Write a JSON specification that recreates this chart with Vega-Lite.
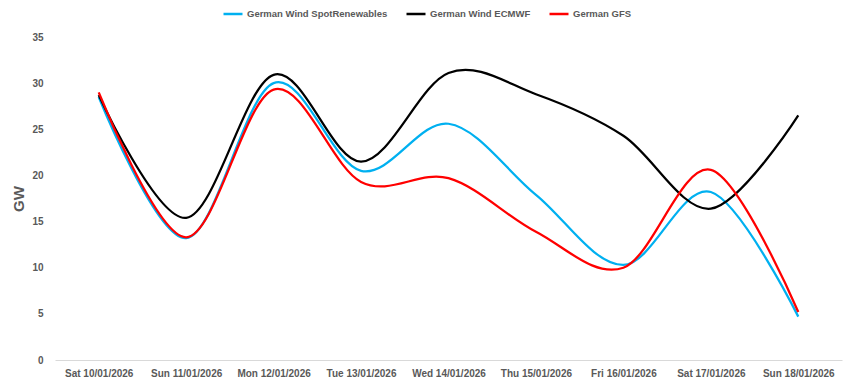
{
  "$schema": "https://vega.github.io/schema/vega-lite/v6.json",
  "width": 787,
  "height": 323,
  "autosize": "none",
  "padding": {"left": 55, "top": 37, "right": 9, "bottom": 19},
  "background": "white",
  "config": {"view": {"stroke": null}},
  "data": {
    "values": [
      {"day": "Sat 10/01/2026", "series": "German Wind SpotRenewables", "gw": 28.5},
      {"day": "Sun 11/01/2026", "series": "German Wind SpotRenewables", "gw": 13.2},
      {"day": "Mon 12/01/2026", "series": "German Wind SpotRenewables", "gw": 30.0},
      {"day": "Tue 13/01/2026", "series": "German Wind SpotRenewables", "gw": 20.5},
      {"day": "Wed 14/01/2026", "series": "German Wind SpotRenewables", "gw": 25.6},
      {"day": "Thu 15/01/2026", "series": "German Wind SpotRenewables", "gw": 17.9},
      {"day": "Fri 16/01/2026", "series": "German Wind SpotRenewables", "gw": 10.3},
      {"day": "Sat 17/01/2026", "series": "German Wind SpotRenewables", "gw": 18.2},
      {"day": "Sun 18/01/2026", "series": "German Wind SpotRenewables", "gw": 4.7},
      {"day": "Sat 10/01/2026", "series": "German Wind ECMWF", "gw": 28.7},
      {"day": "Sun 11/01/2026", "series": "German Wind ECMWF", "gw": 15.4},
      {"day": "Mon 12/01/2026", "series": "German Wind ECMWF", "gw": 30.9},
      {"day": "Tue 13/01/2026", "series": "German Wind ECMWF", "gw": 21.5},
      {"day": "Wed 14/01/2026", "series": "German Wind ECMWF", "gw": 31.1},
      {"day": "Thu 15/01/2026", "series": "German Wind ECMWF", "gw": 28.8},
      {"day": "Fri 16/01/2026", "series": "German Wind ECMWF", "gw": 24.3},
      {"day": "Sat 17/01/2026", "series": "German Wind ECMWF", "gw": 16.4},
      {"day": "Sun 18/01/2026", "series": "German Wind ECMWF", "gw": 26.5},
      {"day": "Sat 10/01/2026", "series": "German GFS", "gw": 29.0},
      {"day": "Sun 11/01/2026", "series": "German GFS", "gw": 13.3},
      {"day": "Mon 12/01/2026", "series": "German GFS", "gw": 29.3},
      {"day": "Tue 13/01/2026", "series": "German GFS", "gw": 19.3},
      {"day": "Wed 14/01/2026", "series": "German GFS", "gw": 19.7},
      {"day": "Thu 15/01/2026", "series": "German GFS", "gw": 13.9},
      {"day": "Fri 16/01/2026", "series": "German GFS", "gw": 10.0},
      {"day": "Sat 17/01/2026", "series": "German GFS", "gw": 20.6},
      {"day": "Sun 18/01/2026", "series": "German GFS", "gw": 5.2}
    ]
  },
  "mark": {"type": "line", "interpolate": "cardinal", "strokeWidth": 2.25},
  "encoding": {
    "x": {
      "field": "day",
      "type": "nominal",
      "sort": null,
      "scale": {"type": "point", "padding": 0.5},
      "axis": {
        "title": null,
        "labelAngle": 0,
        "labelFont": "Liberation Sans",
        "labelFontWeight": "bold",
        "labelFontSize": 10,
        "labelColor": "#595959",
        "labelPadding": 8,
        "ticks": false,
        "domainColor": "#d9d9d9",
        "domainWidth": 1,
        "grid": false
      }
    },
    "y": {
      "field": "gw",
      "type": "quantitative",
      "scale": {"domain": [0, 35]},
      "axis": {
        "title": "GW",
        "titleFont": "Liberation Sans",
        "titleFontWeight": "bold",
        "titleFontSize": 15,
        "titleColor": "#595959",
        "titleX": -29,
        "values": [0, 5, 10, 15, 20, 25, 30, 35],
        "labelFont": "Liberation Sans",
        "labelFontWeight": "bold",
        "labelFontSize": 10,
        "labelColor": "#595959",
        "labelPadding": 12,
        "domain": false,
        "ticks": false,
        "grid": false
      }
    },
    "color": {
      "field": "series",
      "type": "nominal",
      "sort": ["German Wind SpotRenewables", "German Wind ECMWF", "German GFS"],
      "scale": {
        "domain": ["German Wind SpotRenewables", "German Wind ECMWF", "German GFS"],
        "range": ["#00B0F0", "#000000", "#FF0000"]
      },
      "legend": {
        "title": null,
        "orient": "none",
        "direction": "horizontal",
        "legendX": 167,
        "legendY": -34,
        "symbolType": "stroke",
        "symbolSize": 361,
        "symbolStrokeWidth": 2.5,
        "labelFont": "Liberation Sans",
        "labelFontWeight": "bold",
        "labelFontSize": 9.5,
        "labelColor": "#595959",
        "labelOffset": 3,
        "columnPadding": 13
      }
    }
  }
}
